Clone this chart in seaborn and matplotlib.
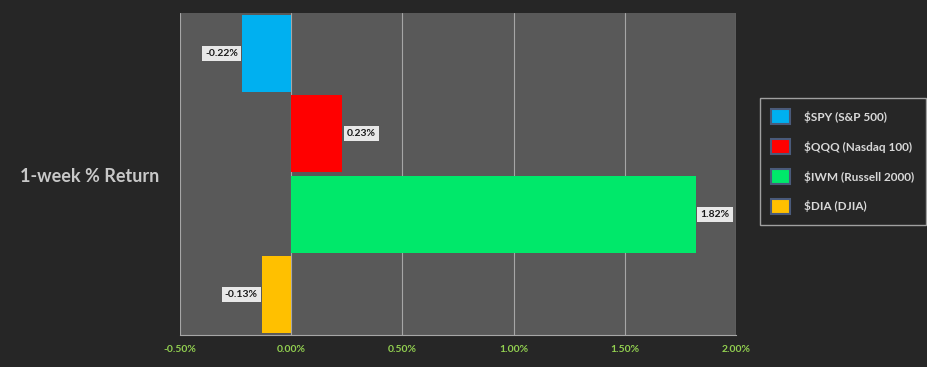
# third-party
import pandas as pd
import matplotlib.pyplot as plt
import seaborn as sns
from matplotlib.patches import Patch
from matplotlib.ticker import FuncFormatter

tickers = ['$SPY (S&P 500)', '$QQQ (Nasdaq 100)', '$IWM (Russell 2000)', '$DIA (DJIA)']
returns = [-0.22, 0.23, 1.82, -0.13]
labels = ['-0.22%', '0.23%', '1.82%', '-0.13%']
colors = ['#00b0f0', '#ff0000', '#00e86a', '#ffc000']

df = pd.DataFrame({'ticker': tickers, 'ret': returns})

sns.set_style('dark')
plt.rcParams['font.family'] = ['Lato', 'DejaVu Sans']

fig = plt.figure(figsize=(9.27, 3.67), dpi=100, facecolor='#262626')
ax = fig.add_axes([0.1942, 0.0872, 0.5998, 0.8774])
ax.set_facecolor('#595959')

sns.barplot(
    data=df, x='ret', y='ticker', hue='ticker', palette=colors,
    orient='h', width=0.96, ax=ax, legend=False, saturation=1,
    linewidth=0, edgecolor='none',
)

ax.set_xlim(-0.5, 2.0)
ax.set_ylim(3.5, -0.5)
ax.set_xticks([-0.5, 0, 0.5, 1.0, 1.5, 2.0])
ax.xaxis.set_major_formatter(FuncFormatter(lambda v, p: '{:.2f}%'.format(v)))
ax.grid(axis='x', color='#a6a6a6', linewidth=0.8)
ax.grid(axis='y', visible=False)
ax.set_axisbelow(True)
ax.set_yticks([])
ax.tick_params(axis='x', colors='#a6a6a6', labelcolor='#92d050',
               labelsize=7.5, length=4, width=0.8, direction='out')
for lbl in ax.get_xticklabels():
    lbl.set_fontweight('bold')

for s in ['top', 'right', 'left']:
    ax.spines[s].set_visible(False)
ax.spines['bottom'].set_color('#a6a6a6')
ax.spines['bottom'].set_linewidth(0.8)

ax.set_xlabel('')
ax.set_ylabel('')
fig.text(90 / 927, 1 - 177 / 367, '1-week % Return', ha='center', va='center',
         color='#c8c8c8', fontsize=13, fontweight='bold')

for i, (v, t) in enumerate(zip(returns, labels)):
    off = 0.02 if v >= 0 else -0.02
    ax.text(v + off, i, t, ha='left' if v >= 0 else 'right', va='center',
            fontsize=7.5, fontweight='bold', color='#1a1a1a',
            bbox=dict(boxstyle='square,pad=0.3', facecolor='#e8e8e8',
                      edgecolor='none'))

handles = [Patch(facecolor=c, edgecolor='#4a5a7a', linewidth=1.5) for c in colors]
leg = fig.legend(handles, tickers, loc='upper left',
                 bbox_to_anchor=(760 / 927, 1 - 98 / 367),
                 frameon=True, fontsize=8.5, handlelength=1.6, handleheight=1.6,
                 labelspacing=1.25, borderpad=0.95, handletextpad=1.2,
                 borderaxespad=0, fancybox=False)
leg.get_frame().set_facecolor('#262626')
leg.get_frame().set_edgecolor('#bfbfbf')
for txt in leg.get_texts():
    txt.set_color('#d9d9d9')
    txt.set_fontweight('bold')

plt.savefig('out.png', dpi=100, facecolor=fig.get_facecolor())
